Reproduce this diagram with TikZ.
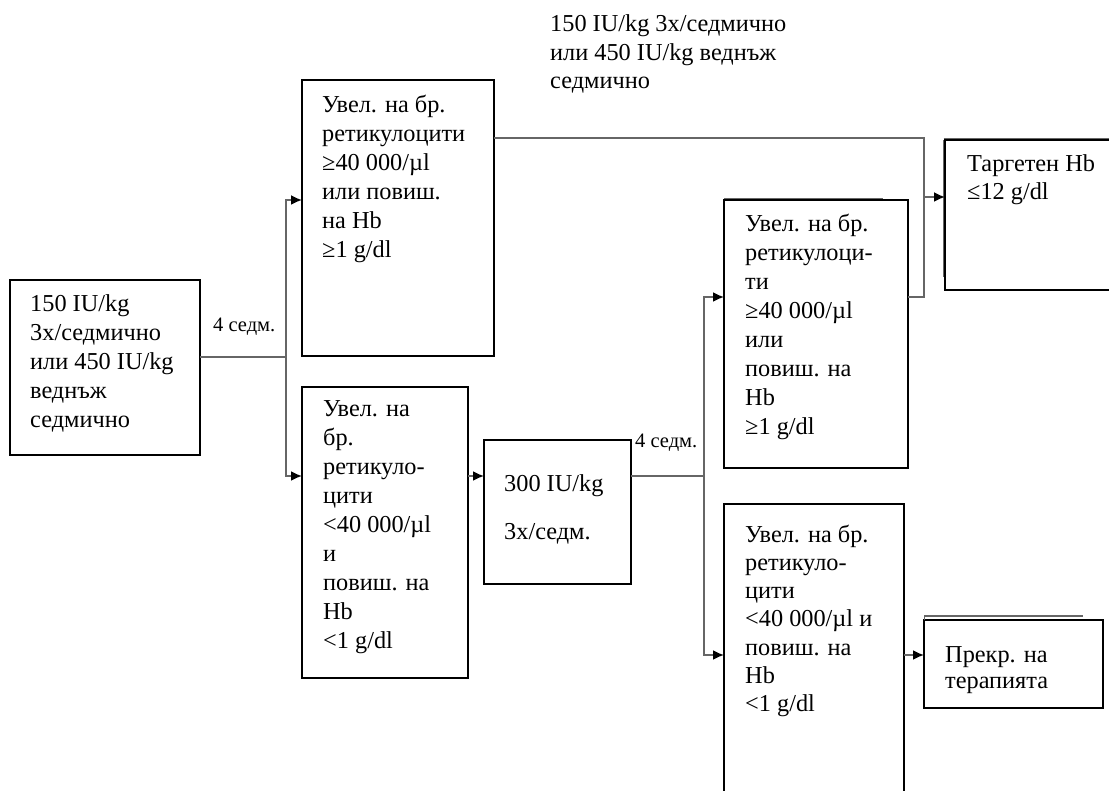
\documentclass[tikz,border=0pt]{standalone}
\usepackage{fontspec}
\setmainfont{Liberation Serif}
\usetikzlibrary{arrows.meta}
\newcommand{\mlines}[1]{\begin{tabular}[t]{@{}l@{}}#1\end{tabular}}
\begin{document}
\begin{tikzpicture}[x=1pt,y=-1pt,
  box/.style={draw=black,line width=1.7pt,inner sep=0pt,outer sep=0pt,anchor=north west,rectangle},
  txt/.style={anchor=base west,inner sep=0pt,align=left,font=\fontsize{24.3}{29}\selectfont},
  lbl/.style={anchor=base west,inner sep=0pt,font=\fontsize{20.5}{24}\selectfont},
  con/.style={draw=black!60,line width=1.8pt},
  arr/.style={con,-{Latex[length=11pt,width=10pt,color=black]}},
  ghost/.style={draw=black!60,line width=1.2pt}]
\useasboundingbox (0,0) rectangle (1109,791);
\clip (0,0) rectangle (1109,791);
\fill[white] (0,0) rectangle (1109,791);

% boxes
\node[box,minimum width=190pt,minimum height=175pt] (A) at (10,280) {};
\node[box,minimum width=192pt,minimum height=276pt] (B) at (302,80) {};
\node[box,minimum width=166pt,minimum height=291pt] (C) at (302,387) {};
\node[box,minimum width=147pt,minimum height=144pt] (P) at (484,440) {};
\node[box,minimum width=184pt,minimum height=268pt] (D) at (724,200) {};
\node[box,minimum width=180pt,minimum height=300pt] (E) at (724,504) {};
\node[box,minimum width=180pt,minimum height=150pt] (T) at (945,140) {};
\node[box,minimum width=179pt,minimum height=88pt] (S) at (924,620) {};

% faint scan artefacts
\draw[ghost] (724,198.3) -- (883,198.3);
\draw[ghost] (943.5,138.3) -- (1109,138.3);
\draw[ghost] (943.3,140) -- (943.3,277);
\draw[ghost] (924,616) -- (1083,616);
\draw[ghost] (924.5,616) -- (924.5,620);

% texts
\node[txt] (tA) at (30,312) {\mlines{150 IU/kg\\3x/седмично\\или 450 IU/kg\\веднъж\\седмично}};
\node[txt] (tB) at (322,113) {\mlines{Увел. на бр.\\ретикулоцити\\≥40 000/µl\\или повиш.\\на Hb\\≥1 g/dl}};
\node[txt] (tC) at (323,417) {\mlines{Увел. на\\бр.\\ретикуло-\\цити\\<40 000/µl\\и\\повиш. на\\Hb\\<1 g/dl}};
\node[txt] (tP1) at (504,492) {300 IU/kg};
\node[txt] (tP2) at (504,539) {3x/седм.};
\node[txt] (tD) at (745,232) {\mlines{Увел. на бр.\\ретикулоци-\\ти\\≥40 000/µl\\или\\повиш. на\\Hb\\≥1 g/dl}};
\node[txt,font=\fontsize{24.3}{28.3}\selectfont] (tE) at (745,542) {\mlines{Увел. на бр.\\ретикуло-\\цити\\<40 000/µl и\\повиш. на\\Hb\\<1 g/dl}};
\node[txt,font=\fontsize{24.3}{28}\selectfont] (tT) at (967,172) {\mlines{Таргетен Hb\\≤12 g/dl}};
\node[txt,font=\fontsize{24.3}{26}\selectfont] (tS) at (945,662) {\mlines{Прекр. на\\терапията}};
\node[txt,font=\fontsize{24.3}{28.5}\selectfont] (top) at (550,32) {\mlines{150 IU/kg 3х/седмично\\или 450 IU/kg веднъж\\седмично}};
\node[lbl] (l1) at (213,332) {4 седм.};
\node[lbl] (l2) at (635,448) {4 седм.};

% connectors
\coordinate (j1) at (286,357);
\coordinate (yB) at (0,200);
\coordinate (yC) at (0,476);
\coordinate (j2) at (924,138);
\coordinate (j2b) at (924,297);
\coordinate (yT) at (0,197);
\coordinate (j3) at (704,476);
\coordinate (yD) at (0,297);
\coordinate (yE) at (0,655);

\draw[con] (A.east |- j1) -- (j1);
\draw[arr] (j1) |- (B.west |- yB);
\draw[arr] (j1) |- (C.west |- yC);
\draw[con] (B.east |- j2) -- (j2) -- (j2b) -- (D.east |- j2b);
\draw[arr] (j2 |- yT) -- (T.west |- yT);
\draw[arr] (C.east |- yC) -- (P.west |- yC);
\draw[con] (P.east |- j3) -- (j3);
\draw[arr] (j3) |- (D.west |- yD);
\draw[arr] (j3) |- (E.west |- yE);
\draw[arr] (E.east |- yE) -- (S.west |- yE);
\end{tikzpicture}
\end{document}
